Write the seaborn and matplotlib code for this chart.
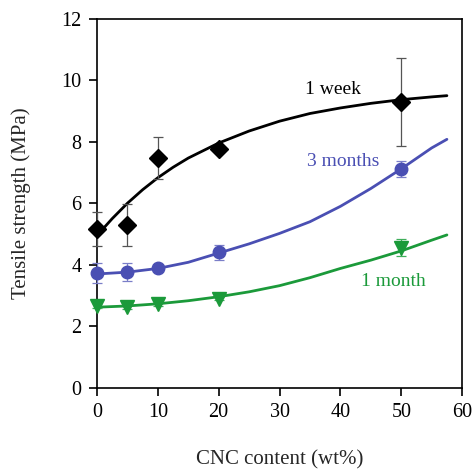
import numpy as np
import pandas as pd
import matplotlib
matplotlib.use('Agg')
import matplotlib.pyplot as plt
import seaborn as sns

# ── Measured points (CNC content wt%, tensile strength MPa, error) ─────────────
cnc_pts = [0, 5, 10, 20, 50]

week1_vals = [5.15, 5.30, 7.48, 7.77, 9.30]
week1_err  = [0.55, 0.68, 0.68, 0.05, 1.43]

month3_vals = [3.74, 3.77, 3.90, 4.40, 7.12]
month3_err  = [0.33, 0.30, 0.06, 0.25, 0.26]

month1_vals = [2.67, 2.64, 2.73, 2.90, 4.55]
month1_err  = [0.08, 0.08, 0.08, 0.06, 0.28]

# ── Fitted curves ──────────────────────────────────────────────────────────────
week1_fit_x = [0, 2.5, 5, 7.5, 10, 12.5, 15, 20, 25, 30, 35, 40, 45, 50, 55, 57.5]
week1_fit_y = [4.95, 5.50, 6.00, 6.44, 6.83, 7.17, 7.47, 7.96, 8.35, 8.67, 8.92,
               9.10, 9.25, 9.37, 9.46, 9.50]

month3_fit_x = [0, 5, 10, 15, 20, 25, 30, 35, 40, 45, 50, 55, 57.5]
month3_fit_y = [3.70, 3.76, 3.88, 4.08, 4.38, 4.68, 5.02, 5.40, 5.90, 6.48, 7.12,
                7.80, 8.08]

month1_fit_x = [0, 5, 10, 15, 20, 25, 30, 35, 40, 45, 50, 55, 57.5]
month1_fit_y = [2.62, 2.66, 2.73, 2.83, 2.96, 3.12, 3.32, 3.58, 3.88, 4.15, 4.45,
                4.80, 4.97]

BLACK = '#000000'
BLUE  = '#4a4fb3'
GREEN = '#1b9a3a'

sns.set_theme(style='ticks')
plt.rcParams['font.family'] = ['Liberation Serif', 'DejaVu Serif']

fig = plt.figure(figsize=(4.73, 4.70), dpi=100)
ax = fig.add_axes([0.205, 0.175, 0.772, 0.785])

series = [
    (week1_fit_x, week1_fit_y, week1_vals, week1_err, BLACK, '#555555', 'D', 9),
    (month3_fit_x, month3_fit_y, month3_vals, month3_err, BLUE, '#7a7ec8', 'o', 9),
    (month1_fit_x, month1_fit_y, month1_vals, month1_err, GREEN, '#3fae5a', 'v', 10),
]

for fx, fy, vals, err, col, ecol, mk, ms in series:
    sns.lineplot(x=fx, y=fy, color=col, linewidth=2.0, ax=ax, sort=False)
    eb = ax.errorbar(cnc_pts, vals, yerr=err, fmt='none', ecolor=ecol,
                     elinewidth=0.9, capsize=3.5, capthick=0.9, zorder=3)
    for artist in eb.lines[1] + eb.lines[2]:
        artist.set_clip_on(False)
    ax.plot(cnc_pts, vals, linestyle='none', marker=mk, markersize=ms,
            color=col, markeredgecolor=col, zorder=4, clip_on=False)

ax.text(38.8, 9.69, '1 week', color=BLACK, fontsize=14, ha='center', va='center')
ax.text(40.4, 7.35, '3 months', color=BLUE, fontsize=14, ha='center', va='center')
ax.text(48.7, 3.45, '1 month', color=GREEN, fontsize=14, ha='center', va='center')

ax.set_xlim(0, 60)
ax.set_ylim(0, 12)
ax.set_xticks(range(0, 61, 10))
ax.set_yticks(range(0, 13, 2))
ax.tick_params(axis='both', direction='out', length=6, width=1.2,
               labelsize=14.5, colors='black', pad=5)
for side in ['top', 'right', 'left', 'bottom']:
    ax.spines[side].set_visible(True)
    ax.spines[side].set_linewidth(1.2)
    ax.spines[side].set_color('black')

ax.set_xlabel('CNC content (wt%)', fontsize=15, labelpad=20)
ax.set_ylabel('Tensile strength (MPa)', fontsize=15, labelpad=22)

fig.savefig('out.png', dpi=100)
plt.close(fig)
